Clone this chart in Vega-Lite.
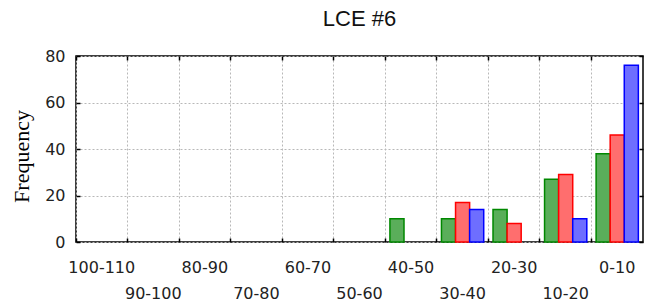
{
  "$schema": "https://vega.github.io/schema/vega-lite/v6.json",
  "autosize": "none",
  "width": 567,
  "height": 186,
  "padding": {"left": 76, "top": 56, "right": 8, "bottom": 63},
  "background": "white",
  "title": {"text": "LCE #6", "font": "Liberation Sans", "fontSize": 22, "fontWeight": "normal", "color": "#111", "anchor": "middle", "offset": 17},
  "config": {
    "view": {"stroke": "#000", "strokeWidth": 1.5},
    "axis": {"domain": false, "labelFont": "DejaVu Sans", "labelFontSize": 16, "labelColor": "#222", "tickColor": "#000", "tickWidth": 1.5, "gridColor": "#b8b8b8", "gridDash": [2, 2], "gridWidth": 1}
  },
  "data": {"values": [
    {"range": "40-50", "series": "Series 1", "frequency": 10},
    {"range": "30-40", "series": "Series 1", "frequency": 10},
    {"range": "30-40", "series": "Series 2", "frequency": 17},
    {"range": "30-40", "series": "Series 3", "frequency": 14},
    {"range": "20-30", "series": "Series 1", "frequency": 14},
    {"range": "20-30", "series": "Series 2", "frequency": 8},
    {"range": "10-20", "series": "Series 1", "frequency": 27},
    {"range": "10-20", "series": "Series 2", "frequency": 29},
    {"range": "10-20", "series": "Series 3", "frequency": 10},
    {"range": "0-10", "series": "Series 1", "frequency": 38},
    {"range": "0-10", "series": "Series 2", "frequency": 46},
    {"range": "0-10", "series": "Series 3", "frequency": 76}
  ]},
  "layer": [
    {
      "mark": {"type": "bar", "strokeWidth": 1.5},
      "encoding": {
        "x": {"field": "range", "type": "nominal", "sort": null,
          "scale": {"domain": ["100-110", "90-100", "80-90", "70-80", "60-70", "50-60", "40-50", "30-40", "20-30", "10-20", "0-10"], "paddingInner": 0, "paddingOuter": 0},
          "axis": {"orient": "bottom", "title": null, "bandPosition": 0, "labelAngle": 0, "labelAlign": "center", "grid": true, "tickSize": -4, "labelPadding": 21, "labelBaseline": "top", "labelLineHeight": 26.6,
            "labelExpr": "(datum.value == '90-100' || datum.value == '70-80' || datum.value == '50-60' || datum.value == '30-40' || datum.value == '10-20') ? ['', datum.label] : datum.label"}},
        "xOffset": {"field": "series", "type": "nominal", "scale": {"domain": ["Series 1", "Series 2", "Series 3"], "paddingOuter": 0.33, "paddingInner": 0}},
        "y": {"field": "frequency", "type": "quantitative", "scale": {"domain": [0, 80], "nice": false},
          "axis": {"orient": "left", "values": [0, 20, 40, 60, 80], "grid": true, "tickSize": -4, "labelPadding": 15,
            "title": "Frequency", "titleFont": "Liberation Serif", "titleFontSize": 22, "titleFontWeight": "normal", "titleColor": "#000",
            "titleX": -55, "titleY": 100, "titleAlign": "center", "titleBaseline": "middle", "titleAngle": -90}},
        "fill": {"field": "series", "type": "nominal", "scale": {"domain": ["Series 1", "Series 2", "Series 3"], "range": ["#5aae5a", "#ff6e6e", "#6e6eff"]}, "legend": null},
        "stroke": {"field": "series", "type": "nominal", "scale": {"domain": ["Series 1", "Series 2", "Series 3"], "range": ["#008800", "#ff0000", "#0000ff"]}, "legend": null}
      }
    },
    {
      "mark": {"type": "bar", "opacity": 0},
      "encoding": {
        "x": {"field": "range", "type": "nominal", "sort": null,
          "axis": {"orient": "top", "title": null, "labels": false, "grid": false, "bandPosition": 0, "tickSize": -4}},
        "xOffset": {"field": "series", "type": "nominal"},
        "y": {"field": "frequency", "type": "quantitative",
          "axis": {"orient": "right", "title": null, "labels": false, "grid": false, "values": [0, 20, 40, 60, 80], "tickSize": -4}}
      }
    }
  ],
  "resolve": {"axis": {"x": "independent", "y": "independent"}}
}
